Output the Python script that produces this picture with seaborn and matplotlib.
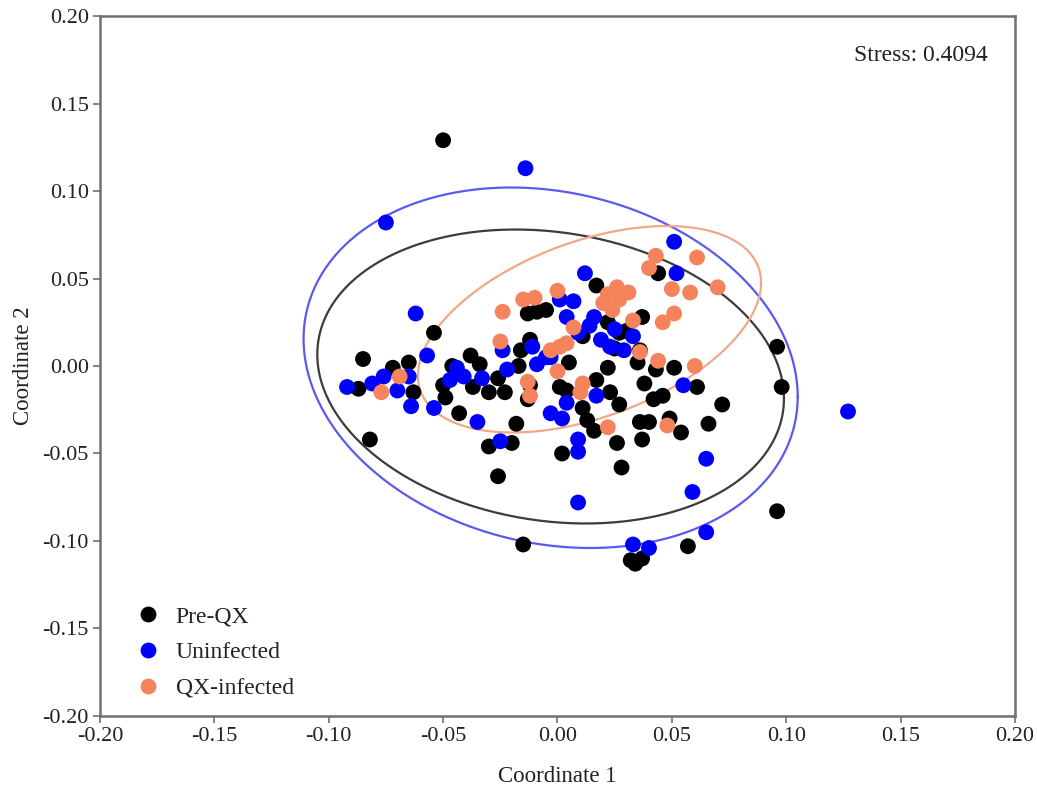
import numpy as np
import pandas as pd
import seaborn as sns
import matplotlib.pyplot as plt
from matplotlib.ticker import FuncFormatter

# NMDS scores
pre_qx_x = [-0.050, -0.085, -0.087, -0.072, -0.065, -0.063, -0.054, -0.082, -0.043, -0.018,
            -0.046, -0.038, -0.050, -0.049, -0.037, -0.034, -0.030, -0.023, -0.026, -0.013,
            -0.009, -0.005, -0.016, -0.012, -0.013, -0.030, -0.020, -0.026, -0.015, 0.002,
            0.001, 0.005, 0.004, 0.017, 0.011, 0.022, 0.037, 0.036, 0.044, 0.096,
            0.098, 0.022, 0.035, 0.043, 0.051, 0.038, 0.042, 0.046, 0.061, 0.072,
            0.066, 0.017, 0.023, 0.027, 0.011, 0.013, 0.016, 0.036, 0.040, 0.054,
            0.049, 0.037, 0.026, 0.028, 0.096, 0.057, 0.034, 0.037, 0.032, -0.012,
            -0.017, 0.027, 0.025, 0.030]
pre_qx_y = [0.129, 0.004, -0.013, -0.001, 0.002, -0.015, 0.019, -0.042, -0.027, -0.033,
            0.000, 0.006, -0.011, -0.018, -0.012, 0.001, -0.015, -0.015, -0.007, 0.030,
            0.031, 0.032, 0.009, 0.015, -0.019, -0.046, -0.044, -0.063, -0.102, -0.050,
            -0.012, 0.002, -0.014, 0.046, 0.017, 0.025, 0.028, 0.009, 0.053, 0.011,
            -0.012, -0.001, 0.002, -0.002, -0.001, -0.010, -0.019, -0.017, -0.012, -0.022,
            -0.033, -0.008, -0.015, -0.022, -0.024, -0.031, -0.037, -0.032, -0.032, -0.038,
            -0.030, -0.042, -0.044, -0.058, -0.083, -0.103, -0.113, -0.110, -0.111, -0.011,
            0.000, 0.019, 0.010, 0.020]

uninf_x = [-0.014, -0.075, -0.062, -0.057, -0.092, -0.081, -0.076, -0.065, -0.070, -0.064,
           -0.054, -0.035, -0.044, -0.047, -0.041, -0.033, -0.024, -0.022, -0.009, -0.003,
           0.004, 0.012, 0.007, 0.001, 0.016, 0.019, 0.023, 0.029, 0.033, 0.009,
           -0.011, -0.005, 0.051, 0.052, 0.055, 0.017, 0.004, -0.003, 0.002, 0.009,
           0.009, -0.025, 0.009, 0.065, 0.059, 0.127, 0.065, 0.033, 0.040, 0.025,
           0.014]
uninf_y = [0.113, 0.082, 0.030, 0.006, -0.012, -0.010, -0.006, -0.006, -0.014, -0.023,
           -0.024, -0.032, -0.001, -0.008, -0.006, -0.007, 0.009, -0.002, 0.001, 0.005,
           0.028, 0.053, 0.037, 0.038, 0.028, 0.015, 0.011, 0.009, 0.017, 0.019,
           0.011, 0.005, 0.071, 0.053, -0.011, -0.017, -0.021, -0.027, -0.030, -0.042,
           -0.049, -0.043, -0.078, -0.053, -0.072, -0.026, -0.095, -0.102, -0.104, 0.021,
           0.023]

qx_x = [-0.077, -0.069, -0.024, -0.015, 0.000, -0.025, -0.003, -0.013, -0.012, 0.026,
        0.031, 0.020, 0.024, 0.033, 0.036, 0.001, 0.000, 0.040, 0.043, 0.061,
        0.050, 0.058, 0.070, 0.051, 0.046, 0.044, 0.060, 0.011, 0.010, 0.022,
        0.048, 0.022, 0.027, 0.007, 0.004, -0.010]
qx_y = [-0.015, -0.006, 0.031, 0.038, 0.043, 0.014, 0.009, -0.009, -0.017, 0.045,
        0.042, 0.036, 0.032, 0.026, 0.008, 0.011, -0.003, 0.056, 0.063, 0.062,
        0.044, 0.042, 0.045, 0.030, 0.025, 0.003, 0.000, -0.010, -0.015, -0.035,
        -0.034, 0.041, 0.038, 0.022, 0.013, 0.039]

groups = ["Pre-QX", "Uninfected", "QX-infected"]
colors = ["#000000", "#0000ff", "#f5845c"]
ellipse_colors = ["#3c3c3c", "#5a5af0", "#f0a888"]

# 95% ellipses: centre, half extents and correlation
ell_cx = [-0.003, -0.003, 0.014]
ell_cy = [-0.006, -0.001, 0.021]
ell_hx = [0.102, 0.108, 0.075]
ell_hy = [0.084, 0.103, 0.059]
ell_r = [-0.15, -0.16, 0.45]

df = pd.DataFrame({
    "Coordinate 1": pre_qx_x + uninf_x + qx_x,
    "Coordinate 2": pre_qx_y + uninf_y + qx_y,
    "group": [groups[0]] * len(pre_qx_x) + [groups[1]] * len(uninf_x) + [groups[2]] * len(qx_x),
})

sns.set_style("white")
plt.rcParams["font.family"] = ["Liberation Serif", "DejaVu Serif"]
plt.rcParams["axes.unicode_minus"] = False

fig = plt.figure(figsize=(10.37, 7.86), dpi=100)
ax = fig.add_axes([0.0964, 0.0891, 0.8824, 0.8905])

t = np.linspace(0, 2 * np.pi, 400)
for i in range(3):
    ex = ell_cx[i] + ell_hx[i] * np.cos(t)
    ey = ell_cy[i] + ell_hy[i] * (ell_r[i] * np.cos(t) + np.sqrt(1 - ell_r[i] ** 2) * np.sin(t))
    ax.plot(ex, ey, color=ellipse_colors[i], lw=1.6, zorder=1)

sns.scatterplot(data=df, x="Coordinate 1", y="Coordinate 2", hue="group",
                hue_order=groups, palette=colors, s=130, linewidth=0,
                ax=ax, zorder=2)

fmt = FuncFormatter(lambda v, pos: f"{round(v, 2) + 0.0:.2f}")
ax.set_xlim(-0.2, 0.2)
ax.set_ylim(-0.2, 0.2)
ax.set_xticks(np.arange(-0.2, 0.201, 0.05))
ax.set_yticks(np.arange(-0.2, 0.201, 0.05))
ax.xaxis.set_major_formatter(fmt)
ax.yaxis.set_major_formatter(fmt)
ax.tick_params(axis="both", direction="out", length=5, width=1.2, color="#707070",
               labelsize=16, labelcolor="#222222", bottom=True, left=True, pad=3)
for sp in ax.spines.values():
    sp.set_color("#707070")
    sp.set_linewidth(1.8)

ax.set_xlabel("Coordinate 1", fontsize=16.5, color="#222222", labelpad=14)
ax.set_ylabel("Coordinate 2", fontsize=16.5, color="#222222", labelpad=6)

ax.text(0.97, 0.944, "Stress: 0.4094", transform=ax.transAxes, ha="right",
        va="center", fontsize=17, color="#222222")

leg = ax.legend(loc="lower left", bbox_to_anchor=(0.004, -0.006), frameon=False,
                fontsize=17, handletextpad=0.15, labelspacing=0.6, markerscale=1.0)
for txt in leg.get_texts():
    txt.set_color("#222222")

fig.savefig("out.png", dpi=100)
